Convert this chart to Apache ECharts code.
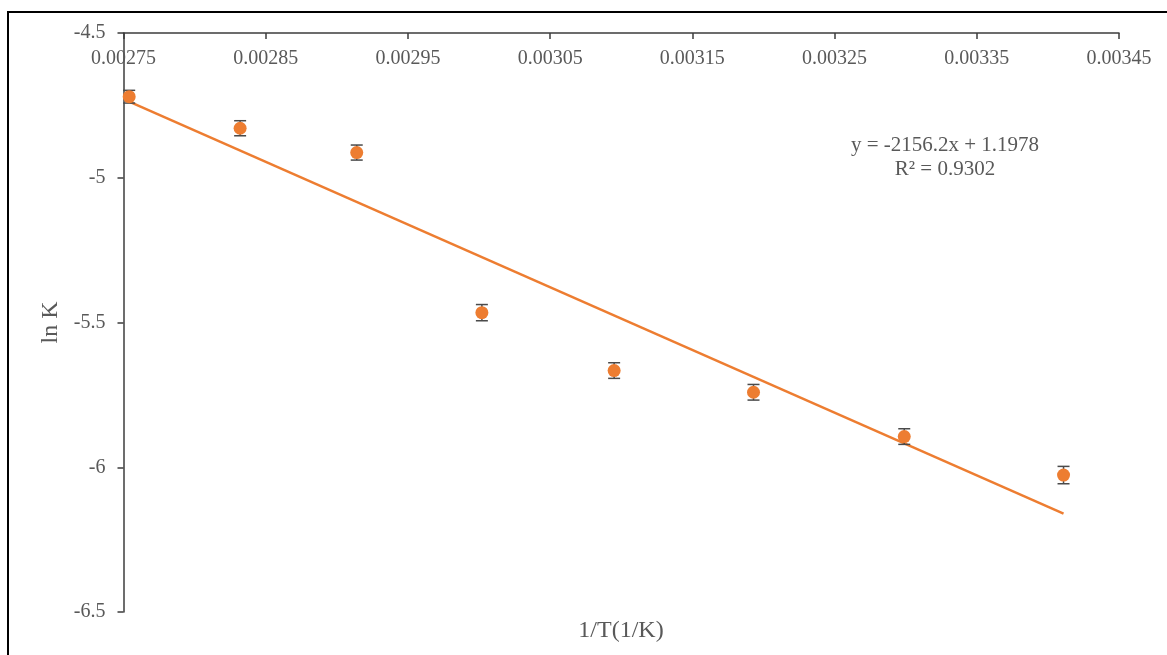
<!DOCTYPE html>
<html>
<head>
<meta charset="utf-8">
<script src="https://cdn.jsdelivr.net/npm/echarts@6/dist/echarts.min.js"></script>
<style>
html,body{margin:0;padding:0;background:#fff;}
#chart{width:1167px;height:655px;}
</style>
</head>
<body>
<div id="chart"></div>
<script>
// Data
const invT = [0.002754, 0.002832, 0.002914, 0.003002, 0.003095, 0.003193, 0.003299, 0.003411];
const lnK = [-4.720, -4.829, -4.913, -5.466, -5.666, -5.741, -5.894, -6.027];
const lnKErr = [0.022, 0.026, 0.026, 0.028, 0.027, 0.027, 0.027, 0.030];
const trendX = [0.002754, 0.003411];
const trendY = [-4.737, -6.160];
const equationText = 'y = -2156.2x + 1.1978';
const r2Text = 'R² = 0.9302';
const xName = '1/T(1/K)';
const yName = 'ln K';

const FONT = '"Liberation Serif", "DejaVu Serif", serif';
const ORANGE = '#ED7D31';
const AXIS = '#3c3c3c';
const LABEL = '#595959';

const points = invT.map((x, i) => [x, lnK[i]]);
const errData = invT.map((x, i) => [x, lnK[i] - lnKErr[i], lnK[i] + lnKErr[i]]);
const trend = trendX.map((x, i) => [x, trendY[i]]);

const chart = echarts.init(document.getElementById('chart'));
chart.setOption({
  animation: false,
  backgroundColor: '#fff',
  grid: { left: 123.5, right: 48, top: 33, bottom: 43, containLabel: false },
  xAxis: {
    type: 'value', position: 'top',
    min: 0.00275, max: 0.00345, interval: 0.0001,
    axisLine: { show: true, onZero: false, lineStyle: { color: AXIS, width: 1.5 } },
    axisTick: { show: true, inside: true, length: 6, lineStyle: { color: AXIS, width: 1.5 } },
    axisLabel: { inside: true, margin: 16, color: LABEL, fontFamily: FONT, fontSize: 20,
      formatter: v => v.toFixed(5) },
    splitLine: { show: false }
  },
  yAxis: {
    type: 'value', min: -6.5, max: -4.5, interval: 0.5,
    axisLine: { show: true, onZero: false, lineStyle: { color: AXIS, width: 1.5 } },
    axisTick: { show: true, inside: false, length: 6, lineStyle: { color: AXIS, width: 1.5 } },
    axisLabel: { margin: 18, color: LABEL, fontFamily: FONT, fontSize: 20,
      formatter: v => String(Math.round(v * 10) / 10) },
    splitLine: { show: false },
    name: yName, nameLocation: 'middle', nameRotate: 90, nameGap: 60,
    nameTextStyle: { color: LABEL, fontFamily: FONT, fontSize: 24 }
  },
  series: [
    {
      type: 'line', data: trend, showSymbol: false, symbol: 'none',
      lineStyle: { color: ORANGE, width: 2.5 }, z: 2
    },
    {
      type: 'custom', data: errData, z: 3,
      renderItem: function (params, api) {
        const x = api.value(0);
        const lo = api.coord([x, api.value(1)]);
        const hi = api.coord([x, api.value(2)]);
        const hw = 6;
        const st = { stroke: '#4a4a4a', lineWidth: 1.5, fill: null };
        return {
          type: 'group',
          children: [
            { type: 'line', shape: { x1: lo[0], y1: lo[1], x2: hi[0], y2: hi[1] }, style: st },
            { type: 'line', shape: { x1: lo[0] - hw, y1: lo[1], x2: lo[0] + hw, y2: lo[1] }, style: st },
            { type: 'line', shape: { x1: hi[0] - hw, y1: hi[1], x2: hi[0] + hw, y2: hi[1] }, style: st }
          ]
        };
      }
    },
    {
      type: 'scatter', data: points, symbol: 'circle', symbolSize: 13,
      itemStyle: { color: ORANGE, opacity: 1 }, z: 4
    }
  ],
  graphic: [
    { type: 'rect', shape: { x: 8, y: 12, width: 1200, height: 700 },
      style: { fill: null, stroke: '#000', lineWidth: 2 }, silent: true, z: -1 },
    { type: 'text', x: 945, y: 145,
      style: { text: equationText, fill: LABEL, font: '21px ' + FONT, align: 'center', verticalAlign: 'middle' } },
    { type: 'text', x: 945, y: 169,
      style: { text: r2Text, fill: LABEL, font: '21px ' + FONT, align: 'center', verticalAlign: 'middle' } },
    { type: 'text', x: 621, y: 631,
      style: { text: xName, fill: LABEL, font: '24px ' + FONT, align: 'center', verticalAlign: 'middle' } }
  ]
});
</script>
</body>
</html>
